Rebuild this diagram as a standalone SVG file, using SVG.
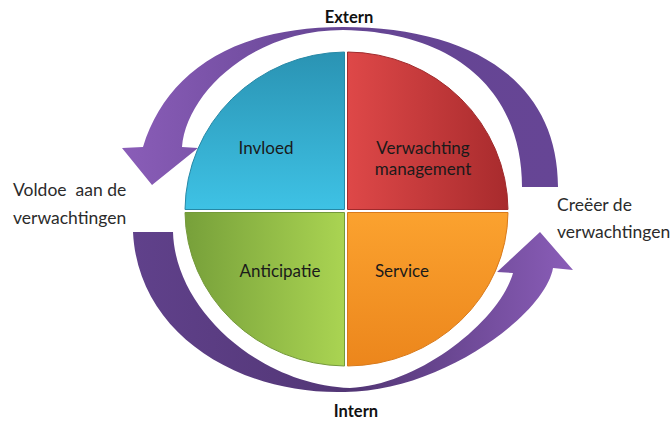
<svg xmlns="http://www.w3.org/2000/svg" width="671" height="424" viewBox="0 0 671 424">
<defs>
<linearGradient id="gBlue" x1="0" y1="0" x2="0" y2="1"><stop offset="0" stop-color="#2a93b3"/><stop offset="1" stop-color="#3ec2e5"/></linearGradient>
<linearGradient id="gRed" x1="0" y1="0" x2="1" y2="0"><stop offset="0" stop-color="#de4848"/><stop offset="1" stop-color="#a82b2d"/></linearGradient>
<linearGradient id="gGreen" x1="0" y1="0" x2="1" y2="0"><stop offset="0" stop-color="#77a03a"/><stop offset="1" stop-color="#aad452"/></linearGradient>
<linearGradient id="gOrange" x1="0" y1="0" x2="0" y2="1"><stop offset="0" stop-color="#fba22f"/><stop offset="1" stop-color="#ec861c"/></linearGradient>
<linearGradient id="gTop" x1="0" y1="0" x2="1" y2="0"><stop offset="0" stop-color="#8a5db8"/><stop offset="0.5" stop-color="#654593"/><stop offset="1" stop-color="#664595"/></linearGradient>
<linearGradient id="gBot" x1="0" y1="0" x2="1" y2="0"><stop offset="0" stop-color="#60418b"/><stop offset="0.5" stop-color="#523675"/><stop offset="1" stop-color="#8a5db8"/></linearGradient>
</defs>
<style>
.q{stroke-width:1}
.lbl{font-family:Lato,"Open Sans","Liberation Sans",sans-serif;font-size:17px;fill:#1a1a1a;text-anchor:middle}
.side{font-family:Lato,"Open Sans","Liberation Sans",sans-serif;font-size:17.5px;fill:#2b2b2b}
.ax{font-family:Lato,"Open Sans","Liberation Sans",sans-serif;font-size:16.5px;font-weight:bold;fill:#111;text-anchor:middle}
</style>
<rect width="671" height="424" fill="#ffffff"/>
<g id="connectors">
<path id="arrow-top" fill="url(#gTop)" d="M558,187 C558,80 470,27 343,27 C230,27 165,75 143,147 L122,148 L152,185 L198,148 L182,147 C186,95 250,30 343,30 C460,32 522,95 522,187 Z"/>
<path id="arrow-bottom" fill="url(#gBot)" d="M133,232 L173,232 C175,310 260,385 350,388 C420,385 500,320 513,273 L497,272 L540,232 L573,270 L553,268 C545,315 440,392 345,392 C240,395 138,335 133,232 Z"/>
</g>
<g id="node-invloed">
<path class="q" fill="url(#gBlue)" stroke="#2688a6" d="M344.5,209.5 L344.5,52 A161.5,159 0 0 0 185,209.5 Z"/>
<text class="lbl" x="266" y="154">Invloed</text>
</g>
<g id="node-verwachting">
<path class="q" fill="url(#gRed)" stroke="#a02a2c" d="M347.5,209.5 L347.5,52 A161.5,159 0 0 1 508,209.5 Z"/>
<text class="lbl" x="423" y="154">Verwachting</text>
<text class="lbl" x="423" y="175">management</text>
</g>
<g id="node-anticipatie">
<path class="q" fill="url(#gGreen)" stroke="#74993a" d="M344.5,212.5 L185,212.5 A161.5,155 0 0 0 344.5,366 Z"/>
<text class="lbl" x="280" y="277">Anticipatie</text>
</g>
<g id="node-service">
<path class="q" fill="url(#gOrange)" stroke="#d97a1a" d="M347.5,212.5 L508,212.5 A161.5,155 0 0 1 347.5,366 Z"/>
<text class="lbl" x="402" y="277">Service</text>
</g>
<g id="labels">
<text class="ax" x="349" y="23">Extern</text>
<text class="ax" x="356" y="417">Intern</text>
<text class="side" x="13" y="196" xml:space="preserve">Voldoe  aan de</text>
<text class="side" x="13" y="224">verwachtingen</text>
<text class="side" x="557" y="211">Creëer de</text>
<text class="side" x="557" y="238">verwachtingen</text>
</g>
</svg>
